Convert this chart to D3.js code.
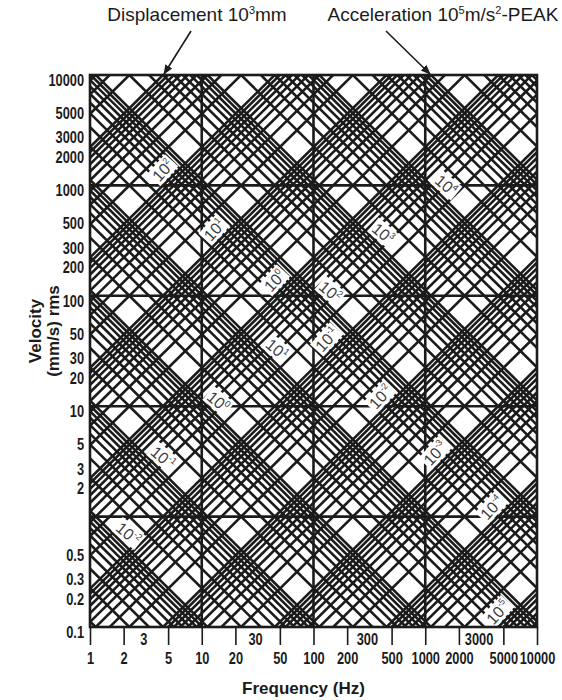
<!DOCTYPE html>
<html>
<head>
<meta charset="utf-8">
<script src="https://cdn.jsdelivr.net/npm/d3@7"></script>
<style>
body{margin:0;background:#fff;}
svg{display:block;}
</style>
</head>
<body>
<div id="chart"></div>
<script>
// axis ticks
const freqTicks = [1, 2, 5, 10, 20, 50, 100, 200, 500, 1000, 2000, 5000, 10000];
const freqMidTicks = [3, 30, 300, 3000];
const velTicks = [10000, 5000, 3000, 2000, 1000, 500, 300, 200, 100, 50, 30, 20, 10, 5, 3, 2, 0.5, 0.3, 0.2, 0.1];
const gridFreq = [10, 100, 1000];
const gridVel = [1, 10, 100, 1000];

// diagonal lines: multiplier x 10^decade
const lineMultipliers = [1, 2, 3, 4, 5, 6, 7, 8, 9];
const dispDecades = [-6, -5, -4, -3, -2, -1, 0, 1, 2, 3];   // displacement, mm
const accDecades = [-4, -3, -2, -1, 0, 1, 2, 3, 4, 5];      // acceleration, m/s^2

// in-chart labels (exponent, frequency where the label sits)
const dispLabelExp = [2, 1, 0, -1, -2, -3, -4, -5];
const dispLabelFreq = [4.5, 13, 45, 132, 400, 1230, 3960, 4470];
const accLabelExp = [4, 3, 2, 1, 0, -1, -2];
const accLabelFreq = [1535, 419, 141, 47, 14, 4.5, 2.2];

// arrow annotations at the top edge
const dispArrowValue = 1000;
const accArrowValue = 100000;

let width = 562, height = 700;
let margin = {top: 75, right: 25, bottom: 73, left: 90};
let innerWidth = width - margin.left - margin.right;
let innerHeight = height - margin.top - margin.bottom;
let ink = "#1b1b1b";

let xScale = d3.scaleLog().domain([1, 10000]).range([0, innerWidth]);
let yScale = d3.scaleLog().domain([0.1, 10000]).range([innerHeight, 0]);

// velocity (mm/s rms) along a peak-to-peak displacement or peak acceleration line
let velFromDisp = (d, f) => d * f * Math.PI / Math.SQRT2;
let velFromAcc = (a, f) => a * 1000 / (2 * Math.PI * f * Math.SQRT2);

let svg = d3.select("#chart").append("svg")
    .attr("width", width)
    .attr("height", height);

svg.append("defs").append("clipPath")
    .attr("id", "clip")
    .append("rect")
    .attr("width", innerWidth)
    .attr("height", innerHeight);

let g = svg.append("g")
    .attr("transform", "translate(" + margin.left + "," + margin.top + ")");

// build the line values
let dispValues = [], accValues = [];
dispDecades.forEach(e => lineMultipliers.forEach(m => dispValues.push(m * Math.pow(10, e))));
accDecades.forEach(e => lineMultipliers.forEach(m => accValues.push(m * Math.pow(10, e))));

let lineGen = d3.line().x(d => xScale(d[0])).y(d => yScale(d[1]));
let fEnds = [0.1, 100000];

let lines = g.append("g").attr("clip-path", "url(#clip)")
    .attr("fill", "none").attr("stroke", ink).attr("stroke-width", 2.6);

lines.selectAll(".disp").data(dispValues).join("path")
    .attr("class", "disp")
    .attr("d", d => lineGen(fEnds.map(f => [f, velFromDisp(d, f)])));

lines.selectAll(".acc").data(accValues).join("path")
    .attr("class", "acc")
    .attr("d", d => lineGen(fEnds.map(f => [f, velFromAcc(d, f)])));

// decade grid
lines.selectAll(".vgrid").data(gridFreq).join("line")
    .attr("class", "vgrid")
    .attr("x1", d => xScale(d)).attr("x2", d => xScale(d))
    .attr("y1", 0).attr("y2", innerHeight);

lines.selectAll(".hgrid").data(gridVel).join("line")
    .attr("class", "hgrid")
    .attr("y1", d => yScale(d)).attr("y2", d => yScale(d))
    .attr("x1", 0).attr("x2", innerWidth);

// labels sitting on the lines
function addLabels(exps, freqs, velFn, angle) {
    exps.forEach((e, i) => {
        let f = freqs[i];
        let x = xScale(f);
        let y = yScale(velFn(Math.pow(10, e), f)) - 15;
        let lg = g.append("g")
            .attr("transform", "translate(" + x + "," + y + ") rotate(" + angle + ")");
        let t = lg.append("text")
            .attr("text-anchor", "middle")
            .attr("dy", "0.35em")
            .attr("font-family", "Liberation Sans, Arial, sans-serif")
            .attr("font-size", 16)
            .attr("fill", "#3a3a3a");
        t.append("tspan").text("10");
        t.append("tspan").attr("font-size", 9).attr("dy", -7).text(e < 0 ? "-" + Math.abs(e) : e);
        let bb = t.node().getBBox();
        lg.insert("rect", "text")
            .attr("x", bb.x - 2).attr("y", bb.y)
            .attr("width", bb.width + 4).attr("height", bb.height)
            .attr("fill", "#fff");
    });
}
addLabels(dispLabelExp, dispLabelFreq, velFromDisp, -48);
addLabels(accLabelExp, accLabelFreq, velFromAcc, 40);

// frame
g.append("rect")
    .attr("width", innerWidth).attr("height", innerHeight)
    .attr("fill", "none").attr("stroke", ink).attr("stroke-width", 2.6);

// axes (bold digits, squeezed to look condensed)
let tickFont = "Liberation Sans, Arial, sans-serif";

let xAxis = d3.axisBottom(xScale).tickValues(freqTicks)
    .tickFormat(d => d).tickSize(18).tickPadding(8);
let gx = g.append("g").attr("transform", "translate(0," + innerHeight + ")").call(xAxis);

let xMidAxis = d3.axisBottom(xScale).tickValues(freqMidTicks)
    .tickFormat(d => d).tickSize(0).tickPadding(7);
let gxm = g.append("g").attr("transform", "translate(0," + innerHeight + ")").call(xMidAxis);

let yAxis = d3.axisLeft(yScale).tickValues(velTicks)
    .tickFormat(d => d).tickSize(0).tickPadding(6);
let gy = g.append("g").call(yAxis);

[gx, gxm, gy].forEach(a => {
    a.select(".domain").remove();
    a.attr("font-family", tickFont).attr("font-size", 16).attr("font-weight", "bold");
    a.selectAll("text").attr("fill", ink).each(function() {
        let w = this.getComputedTextLength();
        d3.select(this).attr("textLength", w * 0.8).attr("lengthAdjust", "spacingAndGlyphs");
    });
    a.selectAll("line").attr("stroke", ink).attr("stroke-width", 1.6);
});
gx.selectAll("text").attr("text-anchor", "middle").attr("x", 0);
gxm.selectAll("text").attr("text-anchor", "middle").attr("x", 0);
gy.selectAll("text").attr("text-anchor", "end").attr("dy", "0.64em");

// axis titles
let titleFont = "Liberation Sans, Arial, sans-serif";
svg.append("text")
    .attr("x", margin.left + innerWidth / 2 - 10).attr("y", 694)
    .attr("text-anchor", "middle")
    .attr("font-family", titleFont).attr("font-weight", "bold").attr("font-size", 17)
    .attr("fill", ink)
    .text("Frequency (Hz)");

svg.append("text")
    .attr("transform", "translate(41,331) rotate(-90)")
    .attr("text-anchor", "middle")
    .attr("font-family", titleFont).attr("font-weight", "bold").attr("font-size", 17)
    .attr("fill", ink)
    .text("Velocity");

svg.append("text")
    .attr("transform", "translate(59,331) rotate(-90)")
    .attr("text-anchor", "middle")
    .attr("font-family", titleFont).attr("font-weight", "bold").attr("font-size", 17)
    .attr("fill", ink)
    .text("(mm/s) rms");

// top annotations with arrows
svg.append("defs").append("marker")
    .attr("id", "arrow")
    .attr("viewBox", "0 0 10 10")
    .attr("refX", 9).attr("refY", 5)
    .attr("markerWidth", 10).attr("markerHeight", 10)
    .attr("markerUnits", "userSpaceOnUse")
    .attr("orient", "auto")
    .append("path").attr("d", "M0,1L10,5L0,9Z").attr("fill", ink);

let topV = yScale.domain()[1];
let dispTipX = margin.left + xScale(topV / velFromDisp(dispArrowValue, 1));
let accTipX = margin.left + xScale(velFromAcc(accArrowValue, 1) / topV);

svg.append("line")
    .attr("x1", dispTipX + 28).attr("y1", 31)
    .attr("x2", dispTipX + 1).attr("y2", margin.top - 1)
    .attr("stroke", ink).attr("stroke-width", 1.6)
    .attr("marker-end", "url(#arrow)");

svg.append("line")
    .attr("x1", accTipX - 45).attr("y1", 31)
    .attr("x2", accTipX - 1).attr("y2", margin.top - 1)
    .attr("stroke", ink).attr("stroke-width", 1.6)
    .attr("marker-end", "url(#arrow)");

function topTitle(x, parts) {
    let t = svg.append("text")
        .attr("x", x).attr("y", 21)
        .attr("text-anchor", "middle")
        .attr("font-family", titleFont).attr("font-size", 19)
        .attr("fill", ink);
    parts.forEach(p => {
        let s = t.append("tspan").text(p[0]);
        if (p[1] === "sup") s.attr("font-size", 11).attr("dy", -7);
        if (p[1] === "base") s.attr("dy", 7);
    });
}
topTitle(197, [["Displacement 10"], ["3", "sup"], ["mm", "base"]]);
topTitle(443, [["Acceleration 10"], ["5", "sup"], ["m/s", "base"], ["2", "sup"], ["-PEAK", "base"]]);
</script>
</body>
</html>
